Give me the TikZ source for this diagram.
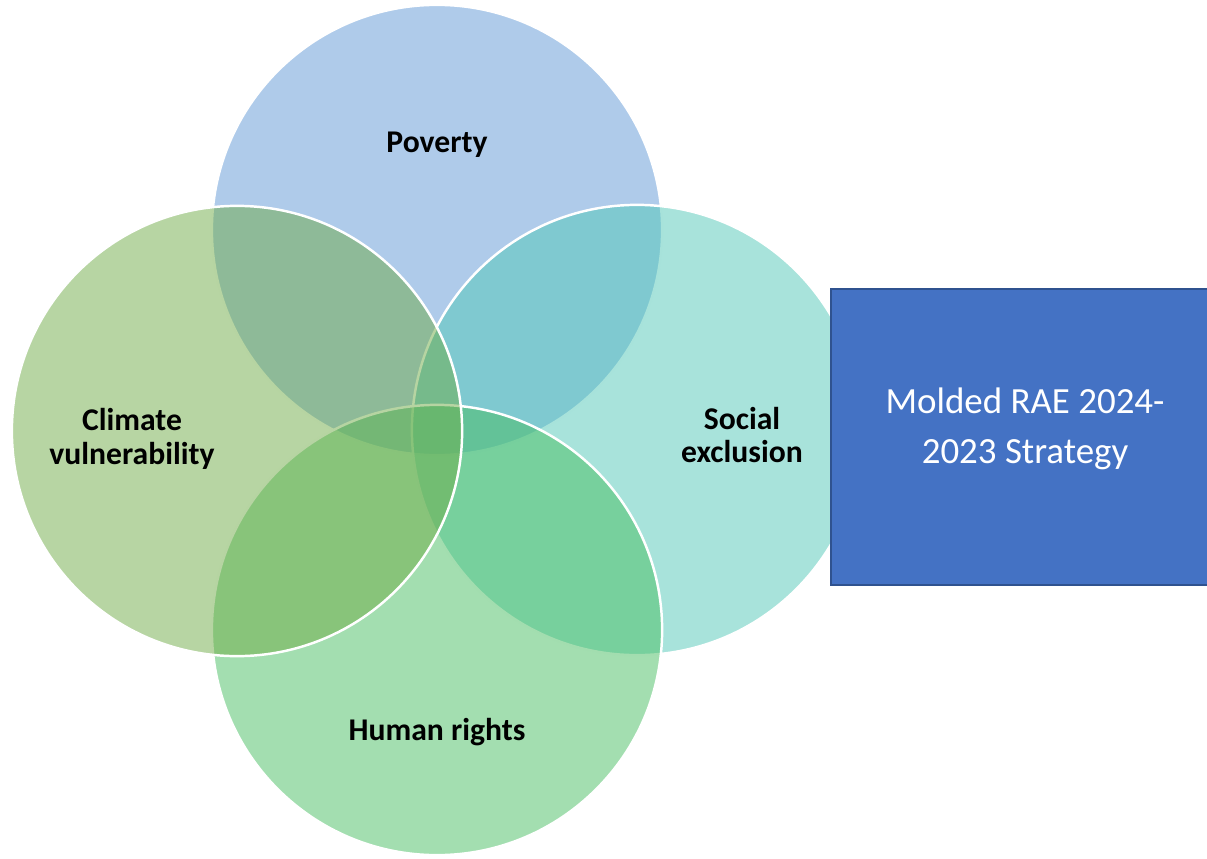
\documentclass[tikz,border=0pt]{standalone}
\usepackage{fontspec}
\setmainfont{Carlito}
\usepackage{tikz}
\definecolor{cpoverty}{RGB}{95,151,213}
\definecolor{csocial}{RGB}{81,199,183}
\definecolor{chuman}{RGB}{71,189,97}
\definecolor{cclimate}{RGB}{111,171,71}
\definecolor{cstrategy}{RGB}{68,114,196}
\definecolor{cstrategyline}{RGB}{47,82,143}

\begin{document}
\begin{tikzpicture}[x=0.01cm,y=-0.01cm,
  venn node/.style={circle,draw=white,line width=0.7pt,fill opacity=0.5,
        minimum size=4.5cm,inner sep=0pt},
  topic node/.style={font=\fontsize{9}{9.6}\selectfont\bfseries,align=center,text=black},
  strategy node/.style={rectangle,fill=cstrategy,draw=cstrategyline,line width=0.6pt,
        minimum width=3.88cm,minimum height=2.95cm,text=white,align=center,
        text depth=0.23cm,font=\fontsize{10.5}{14.2}\selectfont}]
  \useasboundingbox (0,0) rectangle (1207,858);
  \clip (0,0) rectangle (1207,858);
  \node[venn node,fill=cpoverty] (poverty) at (437,230) {};
  \node[venn node,fill=csocial] (social) at (637,430) {};
  \node[venn node,fill=chuman] (human) at (437,630) {};
  \node[venn node,fill=cclimate] (climate) at (237,431) {};

  \node[topic node] (povertytext) at (437,145) {Poverty};
  \node[topic node] (socialtext) at (742,435) {Social\\exclusion};
  \node[topic node] (humantext) at (437,732) {Human rights};
  \node[topic node] (climatetext) at (132,439) {Climate\\vulnerability};

  \node[strategy node] (strategy) at (1025,437) {Molded RAE 2024-\\2023 Strategy};
\end{tikzpicture}
\end{document}
